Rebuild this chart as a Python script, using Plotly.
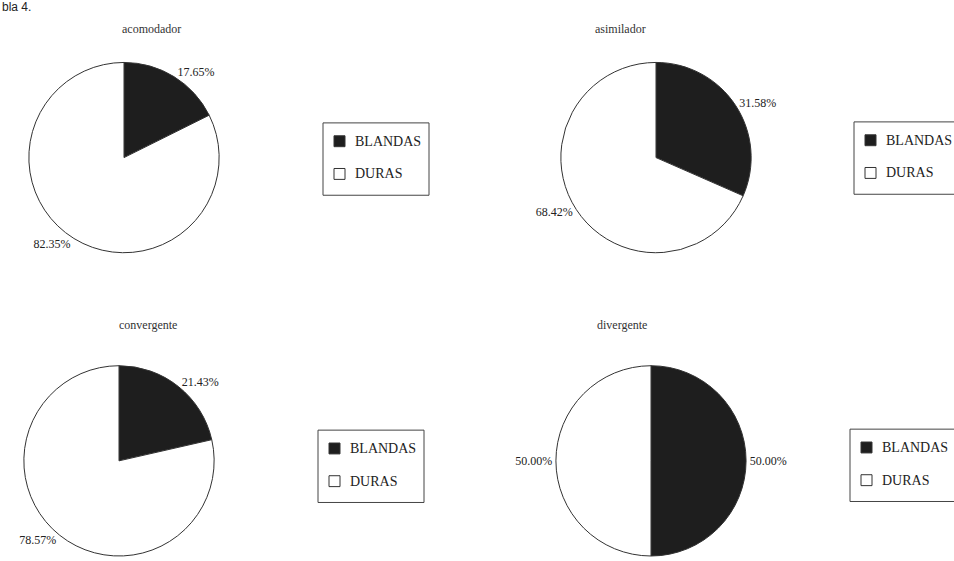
import plotly.graph_objects as go

W, H = 954, 561

categories = ["BLANDAS", "DURAS"]
titles = ["acomodador", "asimilador", "convergente", "divergente"]
pct_acomodador = [17.65, 82.35]
pct_asimilador = [31.58, 68.42]
pct_convergente = [21.43, 78.57]
pct_divergente = [50.00, 50.00]
series = [pct_acomodador, pct_asimilador, pct_convergente, pct_divergente]

slice_colors = ["#1e1e1e", "#ffffff"]
serif = "Liberation Serif, Times New Roman, serif"

# pie centres (px) and radius
centers = [(124, 159), (656, 159), (119, 465), (651, 465)]
R = 96
title_pos = [(120, 20), (648, 20), (117, 328), (649, 328)]
legend_pos = [(323, 124), (854, 123), (318, 434), (850, 433)]  # top-left of legend boxes
LEG_W, LEG_H = 106, 73

fig = go.Figure()
for i, vals in enumerate(series):
    cx, cy = centers[i]
    x0, x1 = (cx - R) / W, (cx + R) / W
    y0, y1 = max(0, 1 - (cy + R) / H), min(1, 1 - (cy - R) / H)
    fig.add_trace(go.Pie(
        labels=categories, values=vals, sort=False, direction="clockwise",
        rotation=0,
        marker=dict(colors=slice_colors, line=dict(color="#333333", width=1)),
        textposition="outside", texttemplate="%{value:.2f}%",
        textfont=dict(family=serif, size=12, color="#222"),
        domain=dict(x=[x0, x1], y=[y0, y1]),
        showlegend=False, hoverinfo="label+percent",
    ))


def px_x(x):
    return x / W


def px_y(y):
    return 1 - y / H


shapes = []
annotations = []
for (lx, ly) in legend_pos:
    shapes.append(dict(type="rect", xref="paper", yref="paper",
                       x0=px_x(lx), x1=px_x(lx + LEG_W), y0=px_y(ly + LEG_H), y1=px_y(ly),
                       line=dict(color="#444", width=1), fillcolor="white", layer="below"))
    for k, (cat, col) in enumerate(zip(categories, slice_colors)):
        sy = ly + 13 + k * 33
        shapes.append(dict(type="rect", xref="paper", yref="paper",
                           x0=px_x(lx + 11), x1=px_x(lx + 22), y0=px_y(sy + 11), y1=px_y(sy),
                           line=dict(color="#333", width=1), fillcolor=col))
        annotations.append(dict(text=cat, x=px_x(lx + 30), y=px_y(sy + 5.5),
                                xref="paper", yref="paper", xanchor="left", yanchor="middle",
                                showarrow=False,
                                font=dict(family=serif, size=14, color="#222")))

for t, (px, py) in zip(titles, title_pos):
    annotations.append(dict(text=t, x=px_x(px), y=px_y(py), xref="paper", yref="paper",
                            showarrow=False, font=dict(family=serif, size=12, color="#333")))

annotations.append(dict(text="bla 4.", x=0, y=1, xref="paper", yref="paper",
                        xanchor="left", yanchor="top", showarrow=False, yshift=2,
                        font=dict(family="Liberation Sans, Arial, sans-serif", size=12, color="#222")))

fig.update_layout(
    width=W, height=H, margin=dict(l=0, r=0, t=0, b=0),
    paper_bgcolor="white", plot_bgcolor="white",
    annotations=annotations, shapes=shapes,
)
fig.write_html("out.html")
